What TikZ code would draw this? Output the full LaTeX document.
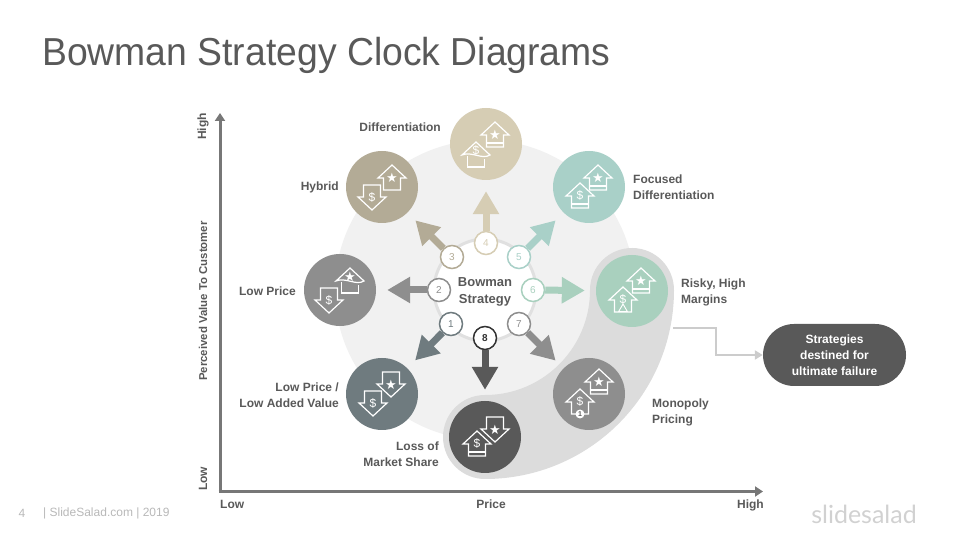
\documentclass[tikz,border=0pt]{standalone}
\usepackage{fontspec}
\setmainfont{Liberation Sans}
\newfontfamily\symfont{DejaVu Sans}
\newfontfamily\markfont{Lato}
\newfontfamily\titlefont[FakeStretch=0.957]{Liberation Sans}
\usetikzlibrary{arrows.meta, calc, shapes.geometric}
\definecolor{textgray}{RGB}{89, 89, 89}
\definecolor{axisgray}{RGB}{119, 119, 119}
\definecolor{discbg}{RGB}{241, 241, 241}
\definecolor{swooshgray}{RGB}{220, 220, 220}
\definecolor{linkgray}{RGB}{204, 204, 204}
\definecolor{sandlight}{RGB}{214, 205, 180}
\definecolor{sanddark}{RGB}{179, 171, 150}
\definecolor{tealsoft}{RGB}{169, 208, 200}
\definecolor{mintsoft}{RGB}{169, 208, 190}
\definecolor{midgray}{RGB}{142, 142, 142}
\definecolor{slategray}{RGB}{111, 123, 127}
\definecolor{darkgray}{RGB}{89, 89, 89}
\newcommand{\starmark}{{\symfont\fontsize{13}{13}\selectfont ★}}
\tikzset{
  iconline/.style={draw=white, line width=1.2pt, line join=miter},
  iconmark/.style={text=white, inner sep=0pt, font=\fontsize{12}{12}\selectfont},
  pics/arrowup/.style={code={
    \draw[iconline] (0,13) -- (14,0) -- (8.5,0) -- (8.5,-12) -- (-8.5,-12) -- (-8.5,0) -- (-14,0) -- cycle;
    \node[iconmark] at (0,0.5) {#1};
  }},
  pics/arrowbar/.style={code={
    \pic {arrowup={#1}};
    \draw[iconline] (-8.5,-8) -- (8.5,-8);
  }},
  pics/arrowwave/.style={code={
    \draw[iconline] (0,13) -- (14,0) .. controls (6,-5) and (-4,4) .. (-14,0) -- cycle;
    \draw[iconline] (8.5,-4) -- (8.5,-12) -- (-8.5,-12) -- (-8.5,-1);
    \node[iconmark] at (0,4.5) {#1};
  }},
  pics/arrowdown/.style={code={
    \draw[iconline] (0,-13) -- (14,0) -- (8.5,0) -- (8.5,12) -- (-8.5,12) -- (-8.5,0) -- (-14,0) -- cycle;
    \node[iconmark] at (0,-0.5) {#1};
  }},
  clockdisc/.style={circle, minimum size=72pt, inner sep=0pt},
  numring/.style={circle, draw=#1, fill=white, line width=1.5pt, minimum size=23pt, inner sep=0pt, text=#1, font=\fontsize{10}{10}\selectfont},
  blockarrow/.style={draw=#1, line width=7pt, shorten >=11pt, -{Triangle[width=25pt, length=23pt]}},
  clocklabel/.style={text=textgray, inner sep=0pt, font=\fontsize{12}{16}\selectfont\bfseries},
  axis/.style={draw=axisgray, line width=3pt, -{Triangle[width=10pt, length=8pt]}}
}

\begin{document}
\begin{tikzpicture}[x=1pt, y=1pt]
  \useasboundingbox (0,0) rectangle (960,540);

  % Title
  \node[anchor=base west, inner sep=0pt, text=textgray, font=\titlefont\fontsize{39}{39}\selectfont] (title) at (42,474) {Bowman Strategy Clock Diagrams};

  % Backdrop
  \node[circle, fill=discbg, minimum size=300pt, inner sep=0pt] (backdisc) at (485,250) {};
  \draw[swooshgray, line width=84pt, line cap=round] (632,250) arc (0:-90:147);

  % Axes
  \coordinate (origin) at (220,48.5);
  \coordinate (ytop) at (220,427);
  \coordinate (xend) at (763,48.5);
  \draw[axis] ($(origin)+(0,-1.5)$) -- (ytop);
  \draw[axis] ($(origin)+(-1.5,0)$) -- (xend);

  % Outer discs
  \node[clockdisc, fill=sandlight] (diff) at (486,396) {};
  \node[clockdisc, fill=sanddark] (hybrid) at (382,353) {};
  \node[clockdisc, fill=tealsoft] (focused) at (589,353) {};
  \node[clockdisc, fill=midgray] (lowprice) at (340,250) {};
  \node[clockdisc, fill=slategray] (lowadded) at (382,146) {};
  \node[clockdisc, fill=darkgray] (loss) at (485,103) {};
  \node[clockdisc, fill=midgray] (monopoly) at (589,146) {};
  \node[clockdisc, fill=mintsoft] (risky) at (632,249) {};

  % Centre
  \node[circle, fill=white, draw=black!12, line width=3pt, minimum size=102pt, inner sep=0pt] (bowman) at (485,250) {};
  \node[align=center, inner sep=0pt, text=textgray, font=\fontsize{13}{17}\selectfont\bfseries] (bowmantext) at (485,248.5) {Bowman\\Strategy};

  % Number rings
  \node[numring=slategray] (n1) at (451,216) {1};
  \node[numring=midgray] (n2) at (439,250) {2};
  \node[numring=sanddark] (n3) at (452,283) {3};
  \node[numring=sandlight] (n4) at (486,297) {4};
  \node[numring=tealsoft] (n5) at (519,283) {5};
  \node[numring=mintsoft] (n6) at (533,250) {6};
  \node[numring=midgray] (n7) at (519,216) {7};
  \node[numring=black!80, font=\fontsize{10}{10}\selectfont\bfseries] (n8) at (485,202) {8};

  % Block arrows
  \draw[blockarrow=slategray] (n1) -- (lowadded);
  \draw[blockarrow=midgray] (n2) -- (lowprice);
  \draw[blockarrow=sanddark] (n3) -- (hybrid);
  \draw[blockarrow=sandlight] (n4) -- (diff);
  \draw[blockarrow=tealsoft] (n5) -- (focused);
  \draw[blockarrow=mintsoft] (n6) -- (risky);
  \draw[blockarrow=midgray] (n7) -- (monopoly);
  \draw[blockarrow=darkgray] (n8) -- (loss);

  % Icons
  \pic at ($(diff)+(9,9)$) {arrowbar=\starmark};
  \pic at ($(diff)+(-10,-11)$) {arrowwave=\$};
  \pic at ($(hybrid)+(10,9)$) {arrowup=\starmark};
  \pic at ($(hybrid)+(-10,-10)$) {arrowdown=\$};
  \pic at ($(focused)+(9,9)$) {arrowbar=\starmark};
  \pic at ($(focused)+(-9,-9)$) {arrowbar=\$};
  \pic at ($(lowprice)+(10,9)$) {arrowwave=\starmark};
  \pic at ($(lowprice)+(-11,-10)$) {arrowdown=\$};
  \pic at ($(lowadded)+(9,10)$) {arrowdown=\starmark};
  \pic at ($(lowadded)+(-9,-9)$) {arrowdown=\$};
  \pic at ($(loss)+(10,8)$) {arrowdown=\starmark};
  \pic at ($(loss)+(-8,-7)$) {arrowbar=\$};
  \pic at ($(monopoly)+(10,12)$) {arrowbar=\starmark};
  \pic at ($(monopoly)+(-9,-8)$) {arrowup=\$};
  \node[circle, fill=white, minimum size=9pt, inner sep=0pt, text=darkgray, font=\fontsize{7}{7}\selectfont\bfseries] (badge) at ($(monopoly)+(-9,-20)$) {1};
  \pic at ($(risky)+(9,10)$) {arrowbar=\starmark};
  \pic at ($(risky)+(-9,-9)$) {arrowup=\$};
  \node[regular polygon, regular polygon sides=3, draw=white, fill=mintsoft, line width=0.9pt, minimum size=10pt, inner sep=0pt] (warn) at ($(risky)+(-9,-18)$) {};

  % Labels
  \node[clocklabel, anchor=east] (lbldiff) at (441,413) {Differentiation};
  \node[clocklabel, anchor=east] (lblhybrid) at (339,353) {Hybrid};
  \node[clocklabel, anchor=west, align=left] (lblfocused) at (633,353) {Focused\\Differentiation};
  \node[clocklabel, anchor=east] (lbllowprice) at (296,249) {Low Price};
  \node[clocklabel, anchor=west, align=left] (lblrisky) at (681,248) {Risky, High\\Margins};
  \node[clocklabel, anchor=east, align=right] (lbllowadded) at (339,145) {Low Price /\\Low Added Value};
  \node[clocklabel, anchor=east, align=right] (lblloss) at (439,86) {Loss of\\Market Share};
  \node[clocklabel, anchor=west, align=left] (lblmonopoly) at (652,128) {Monopoly\\Pricing};

  % Axis labels
  \node[clocklabel, rotate=90, font=\fontsize{11.4}{14}\selectfont\bfseries] (ylabel) at (203,239) {Perceived Value To Customer};
  \node[clocklabel, rotate=90, anchor=east] (yhigh) at (203,427) {High};
  \node[clocklabel, rotate=90, anchor=west] (ylow) at (203,49) {Low};
  \node[clocklabel, anchor=base west] (xlow) at (220,31) {Low};
  \node[clocklabel, anchor=base] (xlabel) at (491,31) {Price};
  \node[clocklabel, anchor=base east] (xhigh) at (764,31) {High};

  % Failure box
  \node[fill=darkgray, rounded corners=31pt, minimum width=143pt, minimum height=62pt, inner sep=0pt, align=center, text=white, font=\fontsize{12}{16}\selectfont\bfseries] (fail) at (834.5,185) {Strategies\\destined for\\ultimate failure};
  \coordinate (swooshedge) at (673,212);
  \draw[linkgray, line width=2.5pt, -{Triangle[width=9pt, length=8pt]}] (swooshedge) -- ++(43,0) |- (fail.west);

  % Footer
  \node[inner sep=0pt, text=black!28, font=\fontsize{12}{12}\selectfont] (pagenum) at (22,27) {4};
  \node[anchor=west, inner sep=0pt, text=black!28, font=\fontsize{12}{12}\selectfont] (footer) at (43,27) {| SlideSalad.com | 2019};
  \node[anchor=east, inner sep=0pt, text=black!18, font=\markfont\fontsize{25}{25}\selectfont] (brand) at (917,26) {slidesalad};
\end{tikzpicture}
\end{document}
